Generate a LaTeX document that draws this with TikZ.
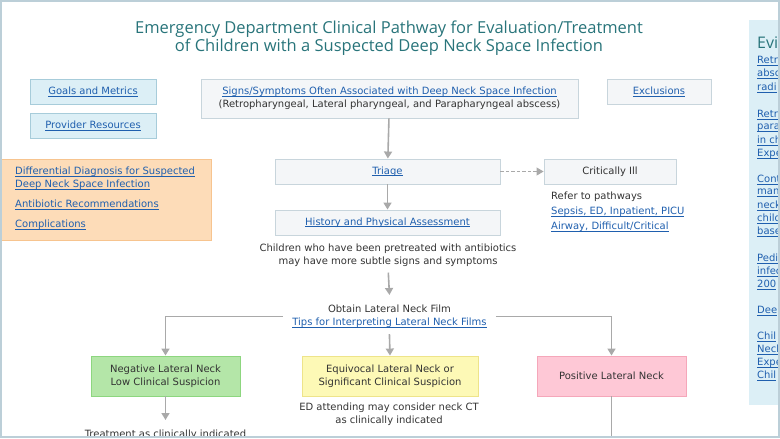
\documentclass[tikz,border=0pt]{standalone}
\usepackage{fontspec}
\setmainfont{DejaVu Sans}
\newfontfamily\titlefont{Open Sans}
\usetikzlibrary{arrows.meta}
\definecolor{titlec}{HTML}{28747A}
\definecolor{linkc}{HTML}{1F5FAE}
\definecolor{txtc}{HTML}{333333}
\definecolor{greyfill}{HTML}{F4F6F8}
\definecolor{greydraw}{HTML}{C8D5DC}
\definecolor{bluefill}{HTML}{DCEFF6}
\definecolor{bluedraw}{HTML}{A7CCDA}
\definecolor{orfill}{HTML}{FDDCB8}
\definecolor{ordraw}{HTML}{F7C48F}
\definecolor{grfill}{HTML}{B4E6A8}
\definecolor{grdraw}{HTML}{8DD67F}
\definecolor{yefill}{HTML}{FDF9B6}
\definecolor{yedraw}{HTML}{EEE48A}
\definecolor{pkfill}{HTML}{FEC8D6}
\definecolor{pkdraw}{HTML}{F5A7BA}
\definecolor{arrc}{HTML}{A9A9A9}
\definecolor{framec}{HTML}{BCCFD8}
\newcommand{\mylink}[1]{{\color{linkc}\setbox0\hbox{#1}\rlap{\rule[-1.7pt]{\wd0}{0.6pt}}\copy0}}
\newcommand{\bodyfont}{\fontsize{10}{13}\selectfont}
\tikzset{
  base/.style={inner sep=0pt, align=center, font=\bodyfont, text=txtc, line width=0.9pt},
  greybox/.style={base, draw=greydraw, fill=greyfill},
  bluebox/.style={base, draw=bluedraw, fill=bluefill},
  plain/.style={inner sep=0pt, align=center, font=\bodyfont, text=txtc},
  conn/.style={draw=arrc, line width=1.6pt, -{Triangle[width=8pt,length=7pt]}},
  line/.style={draw=arrc, line width=1.6pt},
  panel/.style={inner sep=0pt, anchor=west, font=\bodyfont}
}
\begin{document}
\begin{tikzpicture}[x=1pt,y=-1pt]
\useasboundingbox (0,0) rectangle (780,439);
\begin{scope}
\clip (0,0) rectangle (779,437);
% title
\node[inner sep=0pt, align=center, text=titlec, font=\titlefont\fontsize{16.5}{16.5}\selectfont] (title) at (389,38)
  {Emergency Department Clinical Pathway for Evaluation/Treatment\\of Children with a Suspected Deep Neck Space Infection};
% right panel
\fill[bluefill] (749,20) rectangle (781,405);
\node[panel, text=titlec, font=\titlefont\fontsize{16}{16}\selectfont] (evi) at (757,43) {Evi};
\node[panel] (p1) at (757,61) {\mylink{Retr}};
\node[panel] (p2) at (757,74) {\mylink{absc}};
\node[panel] (p3) at (757,88) {\mylink{radi}};
\node[panel] (p4) at (757,115) {\mylink{Retr}};
\node[panel] (p5) at (757,128) {\mylink{para}};
\node[panel] (p6) at (757,141) {\mylink{in ch}};
\node[panel] (p7) at (757,154) {\mylink{Expe}};
\node[panel] (p8) at (757,180) {\mylink{Cont}};
\node[panel] (p9) at (757,193) {\mylink{man}};
\node[panel] (p10) at (757,206) {\mylink{neck}};
\node[panel] (p11) at (757,219) {\mylink{child}};
\node[panel] (p12) at (757,232) {\mylink{base}};
\node[panel] (p13) at (757,259) {\mylink{Pedi}};
\node[panel] (p14) at (757,272) {\mylink{infec}};
\node[panel] (p15) at (757,285) {\mylink{200}};
\node[panel] (p16) at (757,311) {\mylink{Dee}};
\node[panel] (p17) at (757,337) {\mylink{Chil}};
\node[panel] (p18) at (757,350) {\mylink{Neck}};
\node[panel] (p19) at (757,363) {\mylink{Expe}};
\node[panel] (p20) at (757,376) {\mylink{Chil}};
% top boxes
\node[bluebox, minimum width=126pt, minimum height=25pt] (goals) at (93,91.5) {\mylink{Goals and Metrics}};
\node[bluebox, minimum width=126pt, minimum height=25pt] (prov) at (93,125.5) {\mylink{Provider Resources}};
\node[greybox, minimum width=377pt, minimum height=39pt] (signs) at (389.5,98.5)
  {\mylink{Signs/Symptoms Often Associated with Deep Neck Space Infection}\\(Retropharyngeal, Lateral pharyngeal, and Parapharyngeal abscess)};
\node[greybox, minimum width=104pt, minimum height=25pt] (excl) at (659,91.5) {\mylink{Exclusions}};
% orange box
\node[base, draw=ordraw, fill=orfill, minimum width=210pt, minimum height=81pt] (orange) at (106,199.5) {};
\node[inner sep=0pt, anchor=north west, align=left, font=\bodyfont] (dd) at (15,167)
  {\mylink{Differential Diagnosis for Suspected}\\\mylink{Deep Neck Space Infection}};
\node[inner sep=0pt, anchor=west, font=\bodyfont] (abx) at (15,205) {\mylink{Antibiotic Recommendations}};
\node[inner sep=0pt, anchor=west, font=\bodyfont] (comp) at (15,225) {\mylink{Complications}};
% main column
\node[greybox, minimum width=225pt, minimum height=25pt] (triage) at (387.5,171.5) {\mylink{Triage}};
\node[greybox, minimum width=132pt, minimum height=25pt] (crit) at (610,171.5) {Critically Ill};
\node[inner sep=0pt, anchor=north west, align=left, text=txtc, font=\fontsize{10}{15}\selectfont] (refer) at (551,192)
  {Refer to pathways\\\mylink{Sepsis, ED, Inpatient, PICU}\\\mylink{Airway, Difficult/Critical}};
\node[greybox, minimum width=225pt, minimum height=25pt] (hist) at (387.5,222.5) {\mylink{History and Physical Assessment}};
\node[plain] (note) at (388,255) {Children who have been pretreated with antibiotics\\may have more subtle signs and symptoms};
\node[plain, inner sep=9pt] (obtain) at (389.5,316.5) {Obtain Lateral Neck Film\\\mylink{Tips for Interpreting Lateral Neck Films}};
\node[base, draw=grdraw, fill=grfill, minimum width=149pt, minimum height=40pt] (neg) at (165.5,376) {Negative Lateral Neck\\Low Clinical Suspicion};
\node[base, draw=yedraw, fill=yefill, minimum width=176pt, minimum height=40pt] (equiv) at (390,376) {Equivocal Lateral Neck or\\Significant Clinical Suspicion};
\node[base, draw=pkdraw, fill=pkfill, minimum width=149pt, minimum height=40pt] (pos) at (611.5,376) {Positive Lateral Neck};
\node[plain] (ed) at (389,414) {ED attending may consider neck CT\\as clinically indicated};
\node[plain, anchor=north] (treat) at (165.5,430) {Treatment as clinically indicated};
\coordinate (edend) at (389,445);
\coordinate (posend) at (611.5,445);
% connectors
\draw[conn] (signs) -- (triage);
\draw[conn] (triage) -- (hist);
\draw[draw=arrc, line width=1.2pt, dashed, dash pattern=on 3.5pt off 2pt, -{Triangle[width=8pt,length=7pt]}] (triage) -- (crit);
\draw[conn, shorten <=6pt, shorten >=1pt] (note.south) -- (obtain.north);
\draw[conn, shorten <=-3pt] (obtain.south) -- (equiv.north);
\draw[conn] (obtain.west) -| (neg.north);
\draw[conn] (obtain.east) -| (pos.north);
\draw[conn, shorten >=10pt] (neg.south) -- (treat.north);
\draw[line, shorten <=14pt] (ed.south) -- (edend);
\draw[line] (pos.south) -- (posend);
\end{scope}
\draw[framec, line width=1.5pt] (1,1) rectangle (779,437);
\end{tikzpicture}
\end{document}
